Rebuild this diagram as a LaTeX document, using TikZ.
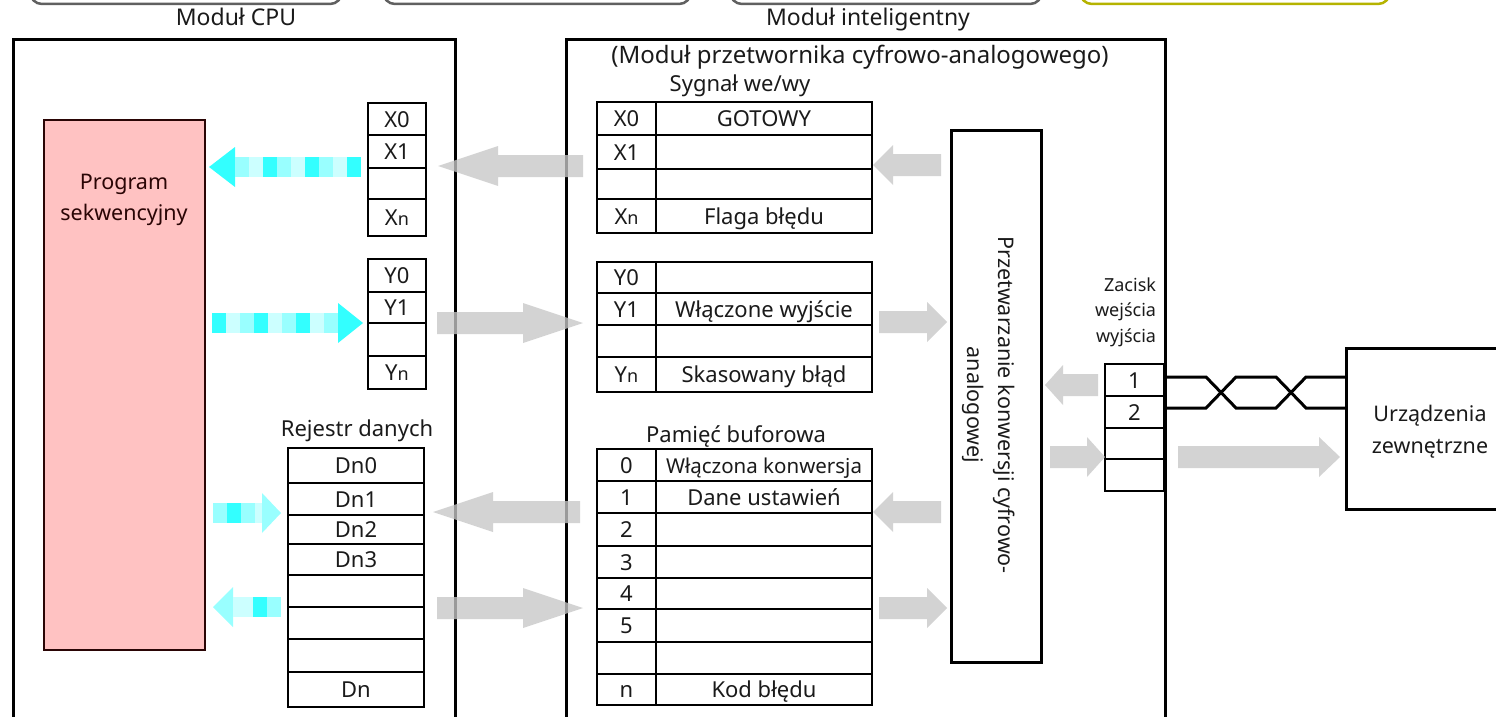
\documentclass[tikz,border=0pt]{standalone}
\usepackage{fontspec}
\setmainfont{Noto Sans}
\definecolor{cyS}{HTML}{33FFFF}
\definecolor{cyM}{HTML}{99FFFF}
\definecolor{cyL}{HTML}{CCFFFF}
\definecolor{pinkfill}{HTML}{FFC2C2}
\definecolor{pinkline}{HTML}{2A0505}
\definecolor{olive}{HTML}{B5B300}
\definecolor{ink}{HTML}{1A1A1A}
\newcommand\subn{{\fontsize{18}{20}\selectfont n}}
% rectangular node: [style]{name}{x1}{y1}{x2}{y2}{text}
\newcommand\rectnode[7][]{\node[#1, minimum width={#5-(#3)}, minimum height={#6-(#4)}] (#2) at ({(#3+#5)/2},{(#4+#6)/2}) {#7};}
% block arrow: [style]{tail x}{tip x}{y}{shaft half}{head half}{head length}
\newcommand\blockarrow[7][]{%
  \pgfmathsetmacro\bax{#3-sign(#3-(#2))*#7}%
  \fill[#1] (#2,#4-#5) -- (\bax,#4-#5) -- (\bax,#4-#6) -- (#3,#4) -- (\bax,#4+#6) -- (\bax,#4+#5) -- (#2,#4+#5) -- cycle;}
% cyan shaft squares: {start x}{step}{y}{colours}
\newcommand\cyanshaft[4]{%
  \foreach \c [count=\i from 0] in {#4} {\fill[fill=\c] ({#1+\i*(#2)},#3-10) rectangle ({#1+(\i+1)*(#2)},#3+10);}}
\newcommand\narrow[1]{{\fontsize{20.5}{24}\selectfont #1}}
\begin{document}
\begin{tikzpicture}[x=1pt,y=-1pt,
  every node/.style={font=\fontsize{22}{26}\selectfont, text=ink, inner sep=0pt, outer sep=0pt},
  modbox/.style={draw, line width=3pt},
  cell/.style={draw, line width=1.6pt, text height=17pt, text depth=1pt},
  lbl/.style={text height=15pt, text depth=4pt},
  btn/.style={draw=gray!75!black, line width=2.5pt, fill=white, rounded corners=12pt},
  garrow/.style={fill=gray!45, fill opacity=0.78},
  wire/.style={line width=3pt, line join=miter}]
\useasboundingbox (0,0) rectangle (1496,717);
\clip (0,0) rectangle (1496,717);

% partial buttons at the top
\rectnode[btn]{b1}{30}{-40}{342}{4}{}
\rectnode[btn]{b2}{383}{-40}{691}{4}{}
\rectnode[btn]{b3}{730}{-40}{1042}{4}{}
\rectnode[btn, draw=olive]{b4}{1080}{-40}{1390}{4}{}

% titles
\node[lbl, font=\fontsize{23}{26}\selectfont] (tcpu) at (236,20) {Moduł CPU};
\node[lbl, font=\fontsize{23}{26}\selectfont] (tint) at (868,20) {Moduł inteligentny};

% module boxes
\rectnode[modbox]{cpu}{13}{40}{455}{718}{}
\rectnode[modbox]{intel}{566}{40}{1165}{718}{}
\node[lbl, font=\fontsize{24}{26}\selectfont] (tsub) at (860,58) {(Moduł przetwornika cyfrowo-analogowego)};
\node[lbl] (tsyg) at (740,86) {Sygnał we/wy};

% sequence program
\rectnode[draw=pinkline, fill=pinkfill, line width=2.5pt]{prog}{44}{120}{205}{650}{}
\node[align=center, text=pinkline, font=\fontsize{21.5}{31}\selectfont] (progt) at (124,200) {Program\\sekwencyjny};

% CPU X register
\foreach \n/\a/\b/\t in {cx0/103/135/X0, cx1/135/168/X1, cx2/168/199/{}, cxn/199/236/{X\subn}}
  {\rectnode[cell]{\n}{368}{\a}{426}{\b}{\t}}
% CPU Y register
\foreach \n/\a/\b/\t in {cy0/259/292/Y0, cy1/292/323/Y1, cy2/323/356/{}, cyn/356/389/{Y\subn}}
  {\rectnode[cell]{\n}{368}{\a}{426}{\b}{\t}}
% data register
\node[lbl] (treg) at (357,431) {Rejestr danych};
\foreach \n/\a/\b/\t in {d0/448/483/Dn0, d1/483/515/Dn1, d2/515/544/Dn2, d3/544/575/Dn3,
  d4/575/607/{}, d5/607/639/{}, d6/639/672/{}, dn/672/707/Dn}
  {\rectnode[cell]{\n}{288}{\a}{424}{\b}{\t}}

% intelligent module X table
\foreach \n/\a/\b/\t/\u in {ix0/102/135/X0/GOTOWY, ix1/135/169/X1/{}, ix2/169/199/{}/{}, ixn/199/233/{X\subn}/{Flaga błędu}}
  {\rectnode[cell]{\n}{597}{\a}{656}{\b}{\t}\rectnode[cell]{\n r}{656}{\a}{872}{\b}{\u}}
% Y table
\foreach \n/\a/\b/\t/\u in {iy0/262/293/Y0/{}, iy1/293/325/Y1/{Włączone wyjście}, iy2/325/357/{}/{}, iyn/357/392/{Y\subn}/{Skasowany błąd}}
  {\rectnode[cell]{\n}{597}{\a}{656}{\b}{\t}\rectnode[cell]{\n r}{656}{\a}{872}{\b}{\u}}
% buffer memory
\node[lbl] (tbuf) at (736,437) {Pamięć buforowa};
\foreach \n/\a/\b/\t/\u in {m0/449/481/0/{\narrow{Włączona konwersja}}, m1/481/513/1/{Dane ustawień}, m2/513/546/2/{},
  m3/546/578/3/{}, m4/578/609/4/{}, m5/609/642/5/{}, m6/642/674/{}/{}, mn/674/705/n/{Kod błędu}}
  {\rectnode[cell]{\n}{597}{\a}{656}{\b}{\t}\rectnode[cell]{\n r}{656}{\a}{872}{\b}{\u}}

% conversion block
\rectnode[modbox]{conv}{951}{130}{1041}{662}{}
\node[rotate=-90, align=center, font=\fontsize{21.5}{31}\selectfont] (convt) at (989,405) {Przetwarzanie konwersji cyfrowo-\\analogowej};

% terminals
\node[align=right, anchor=east, font=\fontsize{18}{25.5}\selectfont] (tzac) at (1156,312) {Zacisk\\wejścia\\wyjścia};
\foreach \n/\a/\b/\t in {t1/364/396/1, t2/396/428/2, t3/428/459/{}, t4/459/491/{}}
  {\rectnode[cell]{\n}{1105}{\a}{1164}{\b}{\t}}

% external device
\rectnode[modbox]{dev}{1346}{348}{1520}{509}{}
\node[align=center, font=\fontsize{21.5}{32}\selectfont] (devt) at (1430,432) {Urządzenia\\zewnętrzne};

% twisted wires
\coordinate (w1) at (1165,377);
\coordinate (w2) at (1165,408);
\draw[wire] (w1) -- ++(41,0) -- ++(30,31) -- ++(40,0) -- ++(30,-31) -- (dev.west |- w1);
\draw[wire] (w2) -- ++(41,0) -- ++(30,-31) -- ++(40,0) -- ++(30,31) -- (dev.west |- w2);

% cyan arrows in CPU module
\fill[cyS] (235,147) -- (209,167) -- (235,187) -- cycle;
\cyanshaft{235}{14}{167}{cyM,cyL,cyS,cyM,cyL,cyS,cyM,cyL,cyS}
\cyanshaft{212}{14}{323}{cyS,cyL,cyM,cyS,cyL,cyM,cyS,cyL,cyM}
\fill[cyS] (338,303) -- (363,323) -- (338,343) -- cycle;
\cyanshaft{213}{14}{513}{cyM,cyS,cyM}
\fill[cyL] (255,503) rectangle (262,523);
\fill[cyM] (262,493) -- (281,513) -- (262,533) -- cycle;
\fill[cyM] (233,587) -- (213,607) -- (233,627) -- cycle;
\fill[cyL] (233,597) rectangle (253,617);
\cyanshaft{253}{14}{607}{cyS,cyM}

% grey block arrows
\blockarrow[garrow]{583}{438}{166}{11}{20}{60}
\blockarrow[garrow]{437}{583}{323}{11}{20}{60}
\blockarrow[garrow]{580}{433}{512}{11}{20}{60}
\blockarrow[garrow]{437}{583}{608}{11}{20}{60}
\blockarrow[garrow]{941}{873}{165}{11}{20}{20}
\blockarrow[garrow]{879}{947}{322}{11}{20}{20}
\blockarrow[garrow]{941}{873}{512}{11}{20}{20}
\blockarrow[garrow]{879}{947}{608}{11}{20}{20}
\blockarrow[garrow]{1098}{1045}{385}{11}{20}{18}
\blockarrow[garrow]{1050}{1105}{457}{11}{20}{18}
\blockarrow[garrow]{1178}{1340}{457}{11}{20}{21}
\end{tikzpicture}
\end{document}
